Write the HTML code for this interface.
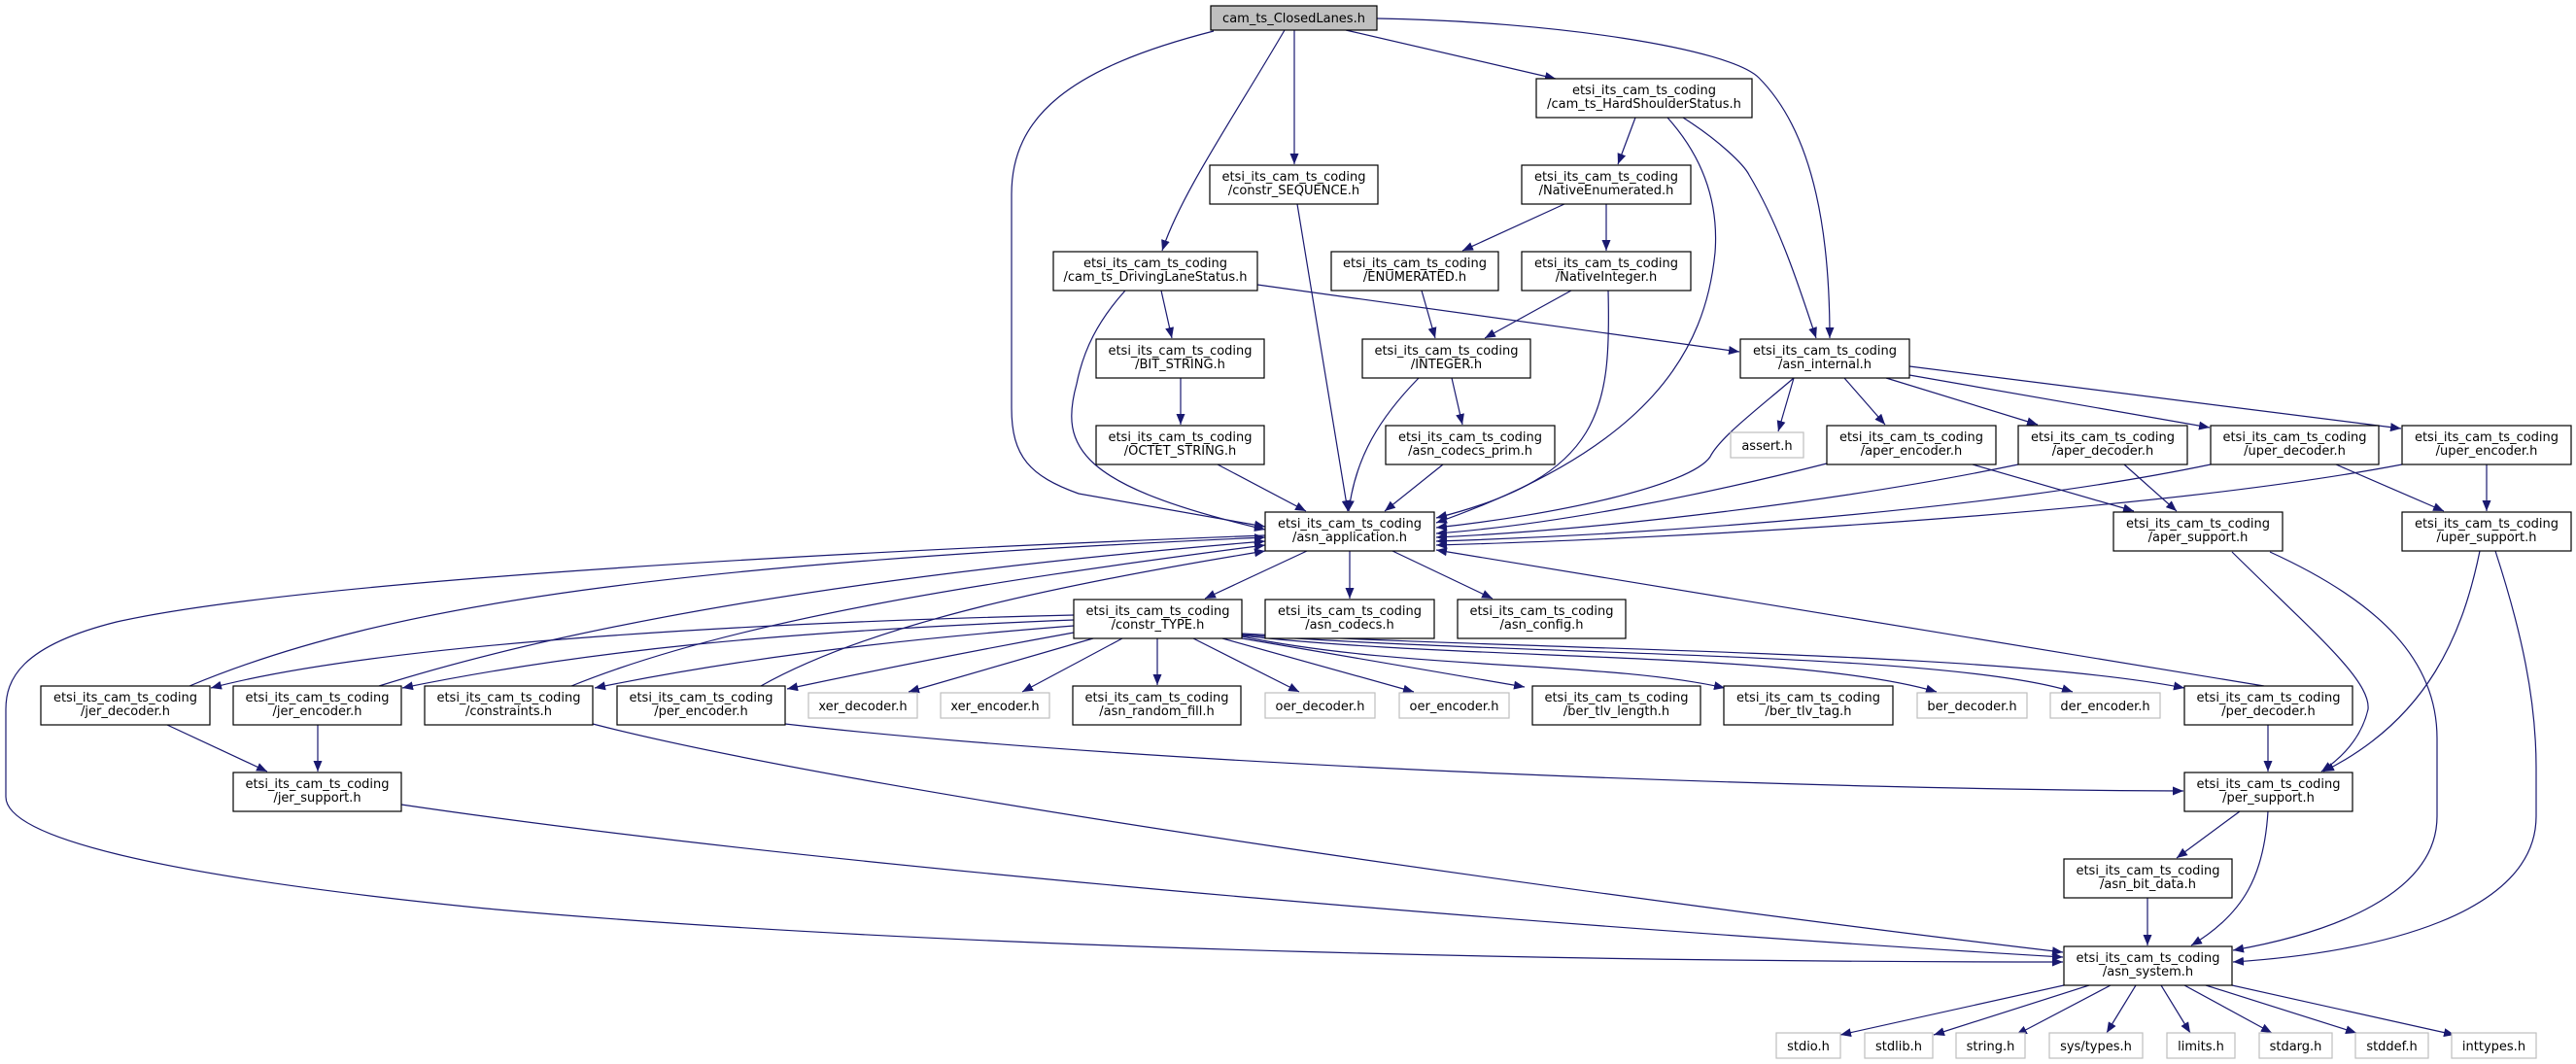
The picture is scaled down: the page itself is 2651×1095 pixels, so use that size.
<!DOCTYPE html>
<html><head><meta charset="utf-8"><style>
html,body{margin:0;padding:0;background:#fff;}
svg{display:block;}
text{font-family:"DejaVu Sans","Liberation Sans",sans-serif;font-size:13px;fill:#000;}
.n{fill:#fff;stroke:#000;stroke-width:1.2;}
.g{fill:#fff;stroke:#bfbfbf;stroke-width:1.2;}
.e{fill:none;stroke:#191970;stroke-width:1.2;marker-end:url(#a);}
</style></head><body>
<svg width="2651" height="1095" viewBox="0 0 2651 1095" xmlns="http://www.w3.org/2000/svg">
<defs><marker id="a" markerUnits="userSpaceOnUse" markerWidth="12" markerHeight="9" refX="11" refY="4.5" orient="auto"><path d="M0,0 L11,4.5 L0,9 z" fill="#191970"/></marker></defs>

<!-- edges -->
<g>
<path class="e" d="M1249,32 C1100,70 1041,120 1041,200 L1041,420 C1041,470 1060,490 1110,508 L1302,542"/>
<path class="e" d="M1322,31 C1270,120 1215,200 1196,258"/>
<path class="e" d="M1332,31 L1332,169"/>
<path class="e" d="M1385,31 L1601,81"/>
<path class="e" d="M1417,19 C1600,22 1780,50 1810,80 C1870,140 1883,250 1883,348"/>
<path class="e" d="M1683,121 L1665,169"/>
<path class="e" d="M1716,121 C1760,170 1768,220 1765,260 C1755,360 1700,460 1478,538"/>
<path class="e" d="M1732,121 C1770,145 1795,170 1800,180 C1830,230 1850,290 1869,348"/>
<path class="e" d="M1335,210 L1387,526"/>
<path class="e" d="M1610,210 L1505,258"/>
<path class="e" d="M1653,210 L1653,258"/>
<path class="e" d="M1158,299 C1130,330 1115,360 1108,395 C1090,460 1110,500 1302,545"/>
<path class="e" d="M1195,299 L1206,348"/>
<path class="e" d="M1294,293 L1790,362"/>
<path class="e" d="M1463,299 L1477,348"/>
<path class="e" d="M1617,299 L1528,348"/>
<path class="e" d="M1655,299 C1658,420 1650,490 1478,533"/>
<path class="e" d="M1215,389 L1215,437"/>
<path class="e" d="M1253,478 L1344,526"/>
<path class="e" d="M1460,389 C1420,430 1395,470 1388,526"/>
<path class="e" d="M1494,389 L1505,437"/>
<path class="e" d="M1485,478 L1425,526"/>
<path class="e" d="M1846,389 C1810,420 1770,450 1760,470 C1740,500 1600,530 1478,543"/>
<path class="e" d="M1846,389 L1830,444"/>
<path class="e" d="M1898,389 L1940,437"/>
<path class="e" d="M1941,389 L2097,437"/>
<path class="e" d="M1965,386 L2274,440"/>
<path class="e" d="M1965,377 L2471,441"/>
<path class="e" d="M1880,477 C1750,510 1600,540 1478,549"/>
<path class="e" d="M2077,478 C1900,515 1650,545 1478,553"/>
<path class="e" d="M2275,478 C2050,525 1700,550 1478,557"/>
<path class="e" d="M2472,478 C2200,530 1700,555 1478,561"/>
<path class="e" d="M2030,478 L2196,526"/>
<path class="e" d="M2186,478 L2240,526"/>
<path class="e" d="M2404,478 L2515,526"/>
<path class="e" d="M2559,478 L2559,526"/>
<path class="e" d="M2297,568 C2380,650 2440,700 2437,730 C2430,760 2410,780 2389,794"/>
<path class="e" d="M2336,568 C2450,620 2508,680 2508,760 L2508,840 C2508,920 2400,960 2298,978"/>
<path class="e" d="M2552,567 C2535,650 2500,740 2391,794"/>
<path class="e" d="M2568,567 C2595,650 2610,720 2610,790 L2610,840 C2610,940 2450,980 2298,990"/>
<path class="e" d="M1345,567 L1240,616"/>
<path class="e" d="M1389,567 L1389,616"/>
<path class="e" d="M1433,567 L1536,616"/>
<path class="e" d="M2330,706 L1478,566"/>
<path class="e" d="M195,706 C400,620 700,580 1302,553"/>
<path class="e" d="M390,706 C600,640 900,590 1302,557"/>
<path class="e" d="M588,706 C750,640 1000,600 1302,561"/>
<path class="e" d="M783,706 C900,640 1100,600 1302,567"/>
<path class="e" d="M1105,633 C800,640 400,660 217,708"/>
<path class="e" d="M1105,638 C800,650 600,670 414,708"/>
<path class="e" d="M1105,644 C900,660 750,680 612,708"/>
<path class="e" d="M1105,651 C1000,670 900,690 810,709"/>
<path class="e" d="M1125,657 L935,712"/>
<path class="e" d="M1155,657 L1052,712"/>
<path class="e" d="M1191,657 L1191,705"/>
<path class="e" d="M1228,657 L1337,712"/>
<path class="e" d="M1258,657 L1455,712"/>
<path class="e" d="M1278,657 L1569,707"/>
<path class="e" d="M1278,655 C1450,690 1650,680 1775,708"/>
<path class="e" d="M1278,654 C1500,680 1850,670 1993,712"/>
<path class="e" d="M1278,653 C1550,675 2000,670 2133,712"/>
<path class="e" d="M1278,652 C1600,670 2050,670 2248,708"/>
<path class="e" d="M1302,551 C800,570 300,600 120,640 C20,665 6,700 6,730 L6,820 C6,860 150,900 500,935 C1000,980 1700,990 2123,990"/>
<path class="e" d="M327,746 L327,794"/>
<path class="e" d="M172,746 L275,794"/>
<path class="e" d="M413,828 C900,900 1700,960 2123,985"/>
<path class="e" d="M610,745 C900,820 1700,930 2123,980"/>
<path class="e" d="M808,745 C1200,790 1900,813 2247,814"/>
<path class="e" d="M2334,746 L2334,794"/>
<path class="e" d="M2305,835 L2240,883"/>
<path class="e" d="M2334,835 C2330,900 2310,940 2255,973"/>
<path class="e" d="M2210,924 L2210,973"/>
<path class="e" d="M2124,1014 L1894,1065"/>
<path class="e" d="M2150,1014 L1990,1065"/>
<path class="e" d="M2172,1014 L2075,1065"/>
<path class="e" d="M2198,1014 L2168,1063"/>
<path class="e" d="M2224,1014 L2254,1063"/>
<path class="e" d="M2248,1014 L2338,1063"/>
<path class="e" d="M2270,1014 L2425,1063"/>
<path class="e" d="M2297,1014 L2526,1065"/>
</g>

<!-- nodes -->
<rect x="1246" y="6" width="171" height="25" fill="#bfbfbf" stroke="#000" stroke-width="1.2"/>
<text x="1331.5" y="23" text-anchor="middle">cam_ts_ClosedLanes.h</text>

<g id="nodes">
<rect class="n" x="1581" y="81" width="222" height="40"/><text x="1692" y="97" text-anchor="middle">etsi_its_cam_ts_coding</text><text x="1692" y="111" text-anchor="middle">/cam_ts_HardShoulderStatus.h</text>
<rect class="n" x="1245" y="170" width="173" height="40"/><text x="1331.5" y="186" text-anchor="middle">etsi_its_cam_ts_coding</text><text x="1331.5" y="200" text-anchor="middle">/constr_SEQUENCE.h</text>
<rect class="n" x="1566" y="170" width="174" height="40"/><text x="1653" y="186" text-anchor="middle">etsi_its_cam_ts_coding</text><text x="1653" y="200" text-anchor="middle">/NativeEnumerated.h</text>
<rect class="n" x="1084" y="259" width="210" height="40"/><text x="1189" y="275" text-anchor="middle">etsi_its_cam_ts_coding</text><text x="1189" y="289" text-anchor="middle">/cam_ts_DrivingLaneStatus.h</text>
<rect class="n" x="1370" y="259" width="172" height="40"/><text x="1456" y="275" text-anchor="middle">etsi_its_cam_ts_coding</text><text x="1456" y="289" text-anchor="middle">/ENUMERATED.h</text>
<rect class="n" x="1566" y="259" width="174" height="40"/><text x="1653" y="275" text-anchor="middle">etsi_its_cam_ts_coding</text><text x="1653" y="289" text-anchor="middle">/NativeInteger.h</text>
<rect class="n" x="1128" y="349" width="173" height="40"/><text x="1214.5" y="365" text-anchor="middle">etsi_its_cam_ts_coding</text><text x="1214.5" y="379" text-anchor="middle">/BIT_STRING.h</text>
<rect class="n" x="1402" y="349" width="173" height="40"/><text x="1488.5" y="365" text-anchor="middle">etsi_its_cam_ts_coding</text><text x="1488.5" y="379" text-anchor="middle">/INTEGER.h</text>
<rect class="n" x="1791" y="349" width="174" height="40"/><text x="1878" y="365" text-anchor="middle">etsi_its_cam_ts_coding</text><text x="1878" y="379" text-anchor="middle">/asn_internal.h</text>
<rect class="n" x="1128" y="438" width="173" height="40"/><text x="1214.5" y="454" text-anchor="middle">etsi_its_cam_ts_coding</text><text x="1214.5" y="468" text-anchor="middle">/OCTET_STRING.h</text>
<rect class="n" x="1426" y="438" width="174" height="40"/><text x="1513" y="454" text-anchor="middle">etsi_its_cam_ts_coding</text><text x="1513" y="468" text-anchor="middle">/asn_codecs_prim.h</text>
<rect class="g" x="1781" y="445" width="75" height="26"/><text x="1818.5" y="463" text-anchor="middle">assert.h</text>
<rect class="n" x="1880" y="438" width="174" height="40"/><text x="1967" y="454" text-anchor="middle">etsi_its_cam_ts_coding</text><text x="1967" y="468" text-anchor="middle">/aper_encoder.h</text>
<rect class="n" x="2077" y="438" width="174" height="40"/><text x="2164" y="454" text-anchor="middle">etsi_its_cam_ts_coding</text><text x="2164" y="468" text-anchor="middle">/aper_decoder.h</text>
<rect class="n" x="2275" y="438" width="173" height="40"/><text x="2361.5" y="454" text-anchor="middle">etsi_its_cam_ts_coding</text><text x="2361.5" y="468" text-anchor="middle">/uper_decoder.h</text>
<rect class="n" x="2472" y="438" width="174" height="40"/><text x="2559" y="454" text-anchor="middle">etsi_its_cam_ts_coding</text><text x="2559" y="468" text-anchor="middle">/uper_encoder.h</text>
<rect class="n" x="1302" y="527" width="174" height="40"/><text x="1389" y="543" text-anchor="middle">etsi_its_cam_ts_coding</text><text x="1389" y="557" text-anchor="middle">/asn_application.h</text>
<rect class="n" x="2175" y="527" width="174" height="40"/><text x="2262" y="543" text-anchor="middle">etsi_its_cam_ts_coding</text><text x="2262" y="557" text-anchor="middle">/aper_support.h</text>
<rect class="n" x="2472" y="527" width="174" height="40"/><text x="2559" y="543" text-anchor="middle">etsi_its_cam_ts_coding</text><text x="2559" y="557" text-anchor="middle">/uper_support.h</text>
<rect class="n" x="1105" y="617" width="173" height="40"/><text x="1191.5" y="633" text-anchor="middle">etsi_its_cam_ts_coding</text><text x="1191.5" y="647" text-anchor="middle">/constr_TYPE.h</text>
<rect class="n" x="1302" y="617" width="174" height="40"/><text x="1389" y="633" text-anchor="middle">etsi_its_cam_ts_coding</text><text x="1389" y="647" text-anchor="middle">/asn_codecs.h</text>
<rect class="n" x="1500" y="617" width="173" height="40"/><text x="1586.5" y="633" text-anchor="middle">etsi_its_cam_ts_coding</text><text x="1586.5" y="647" text-anchor="middle">/asn_config.h</text>
<rect class="n" x="42" y="706" width="174" height="40"/><text x="129" y="722" text-anchor="middle">etsi_its_cam_ts_coding</text><text x="129" y="736" text-anchor="middle">/jer_decoder.h</text>
<rect class="n" x="240" y="706" width="173" height="40"/><text x="326.5" y="722" text-anchor="middle">etsi_its_cam_ts_coding</text><text x="326.5" y="736" text-anchor="middle">/jer_encoder.h</text>
<rect class="n" x="437" y="706" width="173" height="40"/><text x="523.5" y="722" text-anchor="middle">etsi_its_cam_ts_coding</text><text x="523.5" y="736" text-anchor="middle">/constraints.h</text>
<rect class="n" x="635" y="706" width="173" height="40"/><text x="721.5" y="722" text-anchor="middle">etsi_its_cam_ts_coding</text><text x="721.5" y="736" text-anchor="middle">/per_encoder.h</text>
<rect class="g" x="832" y="713" width="112" height="26"/><text x="888" y="731" text-anchor="middle">xer_decoder.h</text>
<rect class="g" x="968" y="713" width="112" height="26"/><text x="1024" y="731" text-anchor="middle">xer_encoder.h</text>
<rect class="n" x="1104" y="706" width="173" height="40"/><text x="1190.5" y="722" text-anchor="middle">etsi_its_cam_ts_coding</text><text x="1190.5" y="736" text-anchor="middle">/asn_random_fill.h</text>
<rect class="g" x="1302" y="713" width="113" height="26"/><text x="1358.5" y="731" text-anchor="middle">oer_decoder.h</text>
<rect class="g" x="1440" y="713" width="113" height="26"/><text x="1496.5" y="731" text-anchor="middle">oer_encoder.h</text>
<rect class="n" x="1577" y="706" width="173" height="40"/><text x="1663.5" y="722" text-anchor="middle">etsi_its_cam_ts_coding</text><text x="1663.5" y="736" text-anchor="middle">/ber_tlv_length.h</text>
<rect class="n" x="1774" y="706" width="174" height="40"/><text x="1861" y="722" text-anchor="middle">etsi_its_cam_ts_coding</text><text x="1861" y="736" text-anchor="middle">/ber_tlv_tag.h</text>
<rect class="g" x="1973" y="713" width="113" height="26"/><text x="2029.5" y="731" text-anchor="middle">ber_decoder.h</text>
<rect class="g" x="2110" y="713" width="113" height="26"/><text x="2166.5" y="731" text-anchor="middle">der_encoder.h</text>
<rect class="n" x="2248" y="706" width="173" height="40"/><text x="2334.5" y="722" text-anchor="middle">etsi_its_cam_ts_coding</text><text x="2334.5" y="736" text-anchor="middle">/per_decoder.h</text>
<rect class="n" x="240" y="795" width="173" height="40"/><text x="326.5" y="811" text-anchor="middle">etsi_its_cam_ts_coding</text><text x="326.5" y="825" text-anchor="middle">/jer_support.h</text>
<rect class="n" x="2248" y="795" width="173" height="40"/><text x="2334.5" y="811" text-anchor="middle">etsi_its_cam_ts_coding</text><text x="2334.5" y="825" text-anchor="middle">/per_support.h</text>
<rect class="n" x="2124" y="884" width="173" height="40"/><text x="2210.5" y="900" text-anchor="middle">etsi_its_cam_ts_coding</text><text x="2210.5" y="914" text-anchor="middle">/asn_bit_data.h</text>
<rect class="n" x="2124" y="974" width="173" height="40"/><text x="2210.5" y="990" text-anchor="middle">etsi_its_cam_ts_coding</text><text x="2210.5" y="1004" text-anchor="middle">/asn_system.h</text>
<rect class="g" x="1828" y="1063" width="66" height="26"/><text x="1861" y="1081" text-anchor="middle">stdio.h</text>
<rect class="g" x="1919" y="1063" width="70" height="26"/><text x="1954" y="1081" text-anchor="middle">stdlib.h</text>
<rect class="g" x="2013" y="1063" width="71" height="26"/><text x="2048.5" y="1081" text-anchor="middle">string.h</text>
<rect class="g" x="2109" y="1063" width="96" height="26"/><text x="2157" y="1081" text-anchor="middle">sys/types.h</text>
<rect class="g" x="2230" y="1063" width="70" height="26"/><text x="2265" y="1081" text-anchor="middle">limits.h</text>
<rect class="g" x="2325" y="1063" width="75" height="26"/><text x="2362.5" y="1081" text-anchor="middle">stdarg.h</text>
<rect class="g" x="2424" y="1063" width="75" height="26"/><text x="2461.5" y="1081" text-anchor="middle">stddef.h</text>
<rect class="g" x="2523" y="1063" width="87" height="26"/><text x="2566.5" y="1081" text-anchor="middle">inttypes.h</text>
</g>
</svg>
</body></html>
